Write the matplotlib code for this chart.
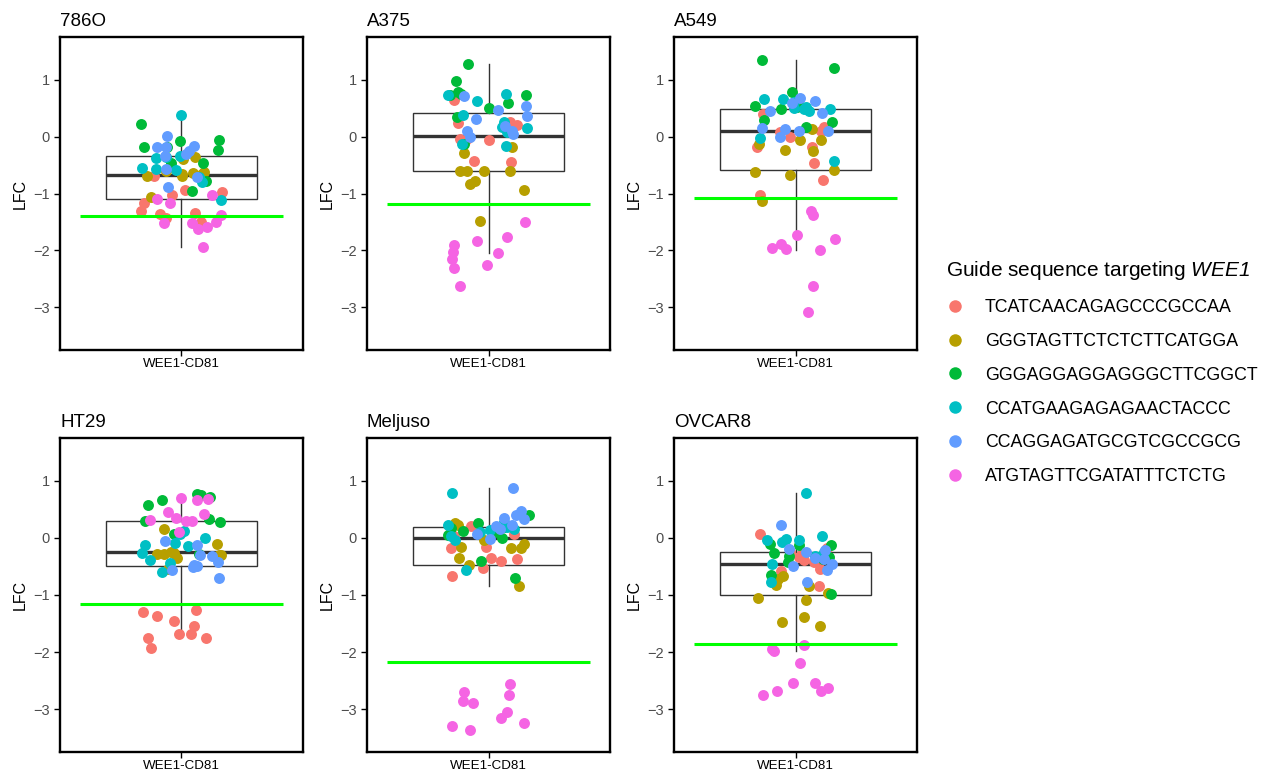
import matplotlib
matplotlib.use("Agg")
import matplotlib.pyplot as plt
from matplotlib.lines import Line2D
import numpy as np

plt.rcParams["font.family"] = ["Liberation Sans", "DejaVu Sans"]
# mathtext is only used for the italic gene name in the legend title
plt.rcParams["mathtext.fontset"] = "custom"
plt.rcParams["mathtext.rm"] = "Liberation Sans:italic"
plt.rcParams["mathtext.it"] = "Liberation Sans:italic"

cell_lines = ["786O", "A375", "A549", "HT29", "Meljuso", "OVCAR8"]
guides = [
    "TCATCAACAGAGCCCGCCAA",
    "GGGTAGTTCTCTCTTCATGGA",
    "GGGAGGAGGAGGGCTTCGGCT",
    "CCATGAAGAGAGAACTACCC",
    "CCAGGAGATGCGTCGCCGCG",
    "ATGTAGTTCGATATTTCTCTG",
]
guide_colors = ["#F8766D", "#B79F00", "#00BA38", "#00BFC4", "#619CFF", "#F564E3"]
x_label = "WEE1-CD81"

# essential-gene threshold per cell line
cutoffs = [-1.39, -1.18, -1.08, -1.15, -2.18, -1.865]

# LFC per guide (rows follow `guides`), 10 replicates each
lfc_786o = [
    [-0.696, -1.023, -0.947, -0.971, -1.170, -1.316, -1.357, -1.427, -1.345, -1.503],
    [-0.696, -0.392, -0.351, -0.655, -0.696, -0.643, -0.614, -1.064, -0.596, -0.655],
    [0.222, -0.187, -0.070, -0.053, -0.228, -0.468, -0.468, -0.772, -0.959, -0.187],
    [0.380, -0.374, -0.556, -0.567, -0.333, -0.801, -1.123, -0.585, -0.363, -0.713],
    [0.006, -0.187, -0.187, -0.158, -0.246, -0.333, -0.567, -0.877, -0.713, -0.304],
    [-1.094, -1.170, -1.018, -1.520, -1.520, -1.632, -1.591, -1.503, -1.386, -1.942],
]
jit_786o = [
    [-0.137, -0.049, 0.015, 0.198, -0.186, -0.198, -0.104, -0.079, 0.069, 0.094],
    [-0.170, 0.008, 0.069, 0.003, 0.003, 0.056, 0.110, -0.153, -0.079, 0.102],
    [-0.198, -0.183, -0.008, 0.184, 0.179, -0.054, 0.105, 0.123, 0.053, -0.071],
    [-0.002, -0.128, -0.194, -0.128, -0.005, 0.099, 0.193, -0.026, -0.079, 0.086],
    [-0.071, -0.123, -0.079, 0.061, 0.036, -0.082, -0.079, -0.066, 0.077, 0.020],
    [-0.120, -0.058, 0.151, -0.087, 0.053, 0.082, 0.127, 0.168, 0.196, 0.107],
]

lfc_a375 = [
    [0.643, 0.246, 0.251, 0.205, -0.041, -0.029, -0.053, -0.070, -0.421, -0.439],
    [-0.292, -0.187, -0.596, -0.596, -0.596, -0.596, -0.830, -0.772, -0.930, -1.485],
    [1.275, 0.982, 0.731, 0.789, 0.737, 0.585, 0.497, 0.339, -0.129, 0.749],
    [0.731, 0.749, 0.620, 0.386, 0.251, 0.164, 0.076, 0.146, -0.158, -0.129],
    [0.713, 0.532, 0.474, 0.310, 0.357, 0.094, 0.047, 0.193, -0.012, 0.105],
    [-1.901, -2.029, -2.146, -2.304, -2.632, -1.836, -2.257, -2.041, -1.766, -1.503],
]
jit_a375 = [
    [-0.168, -0.151, 0.107, 0.143, -0.140, -0.099, 0.003, -0.115, -0.071, 0.110],
    [-0.119, 0.115, -0.140, -0.104, -0.021, 0.107, -0.091, -0.069, 0.176, -0.044],
    [-0.099, -0.160, -0.189, -0.151, 0.184, 0.094, 0.000, -0.156, -0.120, -0.137],
    [-0.198, 0.087, -0.058, -0.127, 0.077, 0.066, 0.091, 0.189, 0.086, -0.132],
    [-0.119, 0.184, 0.049, -0.063, 0.189, -0.107, 0.120, 0.082, -0.091, 0.115],
    [-0.168, -0.173, -0.181, -0.170, -0.140, -0.058, -0.008, 0.049, 0.091, 0.181],
]

lfc_a549 = [
    [0.398, 0.088, 0.000, -0.187, -0.187, 0.164, 0.105, -0.462, -0.760, -1.023],
    [-0.129, -0.234, -0.053, 0.135, -0.053, -0.246, -0.614, -0.673, -0.585, -1.135],
    [1.345, 1.199, 0.789, 0.544, 0.485, 0.515, 0.292, 0.263, 0.164, 0.544],
    [0.661, 0.661, 0.497, 0.515, 0.456, 0.485, -0.029, -0.421, 0.485, 0.602],
    [0.673, 0.632, 0.444, 0.591, 0.415, 0.146, 0.135, 0.000, 0.105, 0.105],
    [-1.310, -1.374, -1.737, -1.953, -1.895, -1.977, -1.994, -1.795, -2.620, -3.082],
]
jit_a549 = [
    [-0.160, -0.079, -0.026, -0.189, 0.082, 0.143, 0.127, 0.091, 0.135, -0.173],
    [-0.178, -0.051, 0.021, 0.081, 0.127, 0.086, -0.199, -0.028, 0.189, -0.166],
    [-0.166, 0.189, -0.018, -0.198, -0.071, 0.008, -0.158, 0.179, 0.053, 0.020],
    [-0.158, -0.063, -0.008, 0.053, 0.069, 0.171, -0.173, 0.188, 0.044, -0.005],
    [0.020, 0.094, -0.128, -0.018, 0.130, -0.165, -0.054, -0.079, 0.016, 0.160],
    [0.077, 0.087, 0.007, -0.117, -0.074, -0.048, 0.123, 0.196, 0.087, 0.061],
]

lfc_ht29 = [
    [-1.298, -1.374, -1.450, -1.263, -1.544, -1.684, -1.684, -1.749, -1.749, -1.930],
    [0.164, -0.275, -0.275, -0.257, -0.351, -0.099, -0.292, -0.550, -0.246, -0.304],
    [0.573, 0.661, 0.766, 0.749, 0.708, 0.298, 0.327, 0.281, 0.070, -0.275],
    [-0.129, -0.263, -0.392, -0.088, 0.117, -0.140, 0.006, -0.439, -0.596, 0.076],
    [-0.053, -0.117, -0.304, -0.316, -0.421, -0.509, -0.497, -0.702, -0.567, -0.480],
    [0.702, 0.661, 0.673, 0.456, 0.351, 0.292, 0.292, 0.415, 0.105, 0.310],
]
jit_ht29 = [
    [-0.188, -0.120, -0.036, 0.074, 0.061, -0.010, 0.049, 0.120, -0.166, -0.151],
    [-0.087, -0.120, -0.087, -0.038, -0.021, 0.176, 0.193, -0.066, -0.054, 0.184],
    [-0.165, -0.095, 0.077, 0.094, 0.143, -0.181, 0.138, 0.188, -0.038, 0.086],
    [-0.178, -0.194, -0.156, -0.030, 0.012, 0.033, 0.115, -0.059, -0.095, -0.005],
    [-0.082, 0.077, 0.089, 0.151, 0.181, 0.056, 0.077, 0.184, -0.046, 0.061],
    [-0.002, 0.077, 0.132, -0.066, -0.026, 0.023, 0.053, 0.110, -0.013, -0.158],
]

lfc_meljuso = [
    [0.205, 0.029, 0.064, -0.175, -0.158, -0.345, -0.404, -0.374, -0.526, -0.673],
    [0.269, 0.222, -0.158, -0.351, -0.041, -0.175, -0.170, -0.099, -0.468, -0.848],
    [0.398, 0.269, 0.181, 0.123, 0.058, 0.105, 0.000, 0.193, -0.404, -0.696],
    [0.778, 0.222, 0.029, 0.105, 0.281, 0.164, -0.556, 0.135, -0.041, 0.193],
    [0.877, 0.474, 0.398, 0.339, 0.351, 0.205, 0.064, -0.012, 0.222, 0.164],
    [-2.702, -2.854, -2.889, -2.556, -2.743, -3.041, -3.152, -3.287, -3.363, -3.234],
]
jit_meljuso = [
    [-0.087, -0.168, 0.127, -0.186, -0.012, 0.012, 0.063, 0.140, -0.028, -0.181],
    [-0.165, -0.151, -0.137, -0.148, -0.020, 0.112, 0.161, 0.173, -0.094, 0.150],
    [0.198, -0.054, -0.186, -0.128, -0.200, 0.033, 0.066, 0.079, -0.036, 0.133],
    [-0.181, -0.198, -0.186, -0.044, 0.077, 0.128, -0.110, 0.008, -0.165, 0.091],
    [0.120, 0.161, 0.135, 0.176, 0.079, 0.036, -0.058, 0.008, 0.115, 0.058],
    [-0.123, -0.128, -0.077, 0.107, 0.100, 0.091, 0.061, -0.178, -0.091, 0.176],
]

lfc_ovcar8 = [
    [0.076, -0.175, -0.246, -0.304, -0.380, -0.421, -0.538, -0.585, -0.848, -0.333],
    [-0.667, -0.819, -1.053, -0.842, -0.959, -1.094, -1.386, -1.474, -1.544, -0.713],
    [-0.099, -0.263, -0.117, -0.316, -0.421, -0.129, -0.333, -0.655, -0.363, -0.988],
    [0.778, 0.029, -0.041, -0.012, -0.070, -0.041, -0.450, -0.772, -0.322, -0.246],
    [0.234, -0.187, -0.246, -0.216, -0.450, -0.556, -0.491, -0.772, -0.351, -0.363],
    [-1.871, -1.953, -1.982, -2.187, -2.538, -2.538, -2.690, -2.632, -2.678, -2.749],
]
jit_ovcar8 = [
    [-0.174, 0.156, -0.025, 0.028, 0.044, 0.089, 0.123, -0.071, 0.114, 0.016],
    [-0.063, -0.095, -0.186, 0.069, 0.160, 0.054, 0.044, -0.067, 0.119, -0.087],
    [-0.128, -0.107, 0.015, -0.030, -0.035, 0.176, 0.165, -0.120, 0.135, 0.176],
    [0.053, 0.130, -0.140, -0.046, -0.066, 0.016, -0.117, -0.120, 0.094, 0.143],
    [-0.071, -0.030, 0.053, 0.148, 0.179, 0.155, -0.013, 0.056, 0.094, 0.143],
    [0.041, -0.117, -0.104, 0.020, -0.012, 0.094, 0.127, 0.160, -0.091, -0.161],
]

all_lfc = [lfc_786o, lfc_a375, lfc_a549, lfc_ht29, lfc_meljuso, lfc_ovcar8]
all_jit = [jit_786o, jit_a375, jit_a549, jit_ht29, jit_meljuso, jit_ovcar8]

W, H = 1267, 777
fig = plt.figure(figsize=(W / 100, H / 100), dpi=100)

# panel boxes in pixels: left, top, right, bottom
col_x = [(60, 303), (367, 610), (674, 917)]
row_y = [(37, 350), (438, 752)]

for i, name in enumerate(cell_lines):
    r, c = divmod(i, 3)
    x0, x1 = col_x[c]
    y0, y1 = row_y[r]
    ax = fig.add_axes([x0 / W, 1 - y1 / H, (x1 - x0) / W, (y1 - y0) / H])

    values = np.concatenate([np.array(g) for g in all_lfc[i]])
    ax.boxplot(values, positions=[1], widths=0.75, showfliers=False,
               patch_artist=True, zorder=1,
               boxprops=dict(facecolor="white", edgecolor="#333333", linewidth=1.0),
               whiskerprops=dict(color="#333333", linewidth=1.0),
               capprops=dict(linewidth=0),
               medianprops=dict(color="#333333", linewidth=2.4))

    for g in range(len(guides)):
        ax.scatter(1 + np.array(all_jit[i][g]), all_lfc[i][g], s=62,
                   color=guide_colors[g], linewidths=0, zorder=2)

    ax.hlines(cutoffs[i], 0.5, 1.5, color="#00FF00", linewidth=2.2, zorder=3)

    ax.set_xlim(0.4, 1.6)
    ax.set_ylim(-3.75, 1.75)
    ax.set_yticks([1, 0, -1, -2, -3])
    ax.set_yticklabels(["1", "0", "\u22121", "\u22122", "\u22123"])
    ax.set_xticks([1])
    ax.set_xticklabels([x_label])
    ax.tick_params(axis="y", labelsize=10.5, labelcolor="#4D4D4D", length=4, width=1.0)
    ax.tick_params(axis="x", labelsize=9.6, labelcolor="black", length=4, width=1.0, pad=2)
    for sp in ax.spines.values():
        sp.set_linewidth(1.7)
        sp.set_color("black")
    ax.set_ylabel("LFC", fontsize=11.5, labelpad=4)
    ax.set_title(name, loc="left", fontsize=13.5, pad=8)

handles = [Line2D([], [], marker="o", linestyle="", markersize=9,
                  markerfacecolor=col, markeredgewidth=0) for col in guide_colors]
leg = fig.legend(handles, guides, loc="upper left", bbox_to_anchor=(930 / W, 1 - 243 / H),
                 frameon=False, fontsize=12.8,
                 title="Guide sequence targeting $\\mathrm{WEE1}$",
                 title_fontsize=15, labelspacing=0.95, handletextpad=1.2,
                 alignment="left", handlelength=1.0)

fig.savefig("out.png", dpi=100)
